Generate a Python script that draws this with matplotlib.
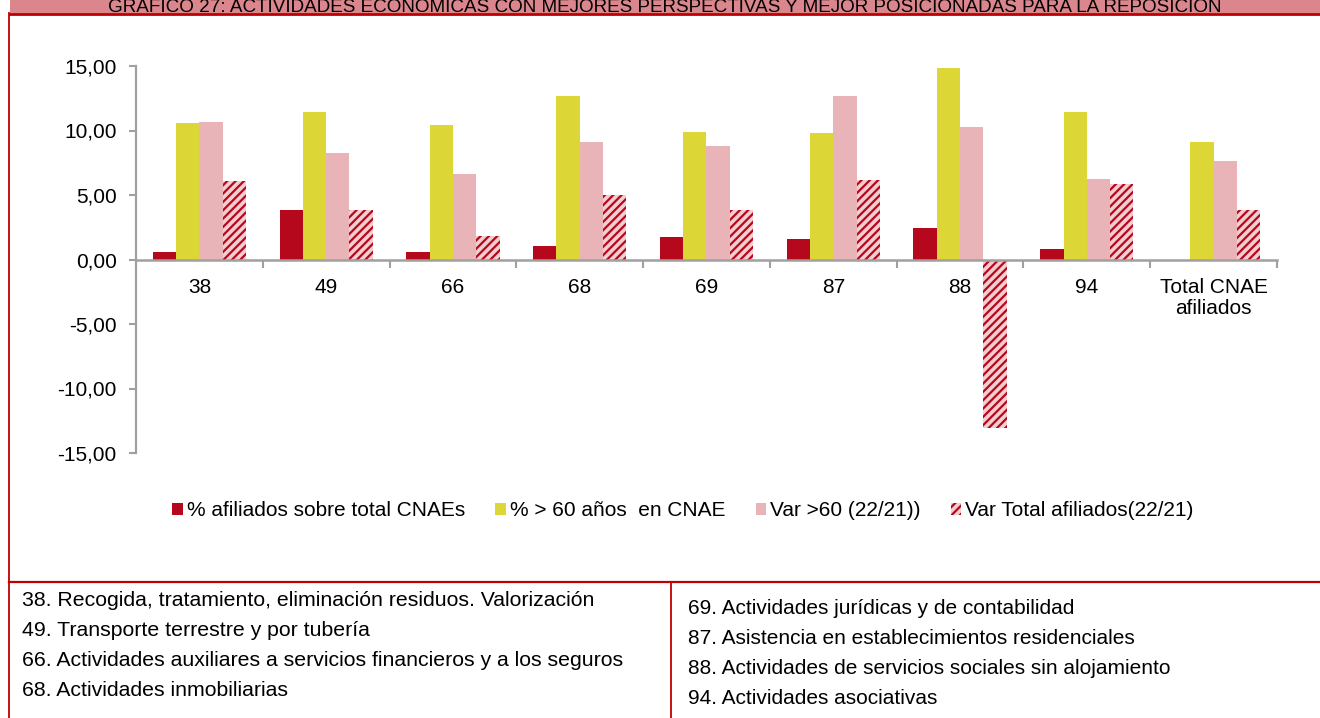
import numpy as np
import matplotlib
matplotlib.use('Agg')
import matplotlib.pyplot as plt
from matplotlib.lines import Line2D
from matplotlib.patches import Rectangle

plt.rcParams['font.family'] = ['Liberation Sans', 'DejaVu Sans']
plt.rcParams['hatch.linewidth'] = 1.6

# datos del grafico
categorias = ['38', '49', '66', '68', '69', '87', '88', '94', 'Total CNAE\nafiliados']
pct_afiliados = [0.60, 3.86, 0.62, 1.04, 1.71, 1.61, 2.41, 0.85, 0.0]
pct_mayores60 = [10.62, 11.40, 10.44, 12.66, 9.89, 9.84, 14.84, 11.40, 9.07]
var_mayores60 = [10.65, 8.29, 6.66, 9.14, 8.83, 12.69, 10.26, 6.24, 7.61]
var_total = [6.11, 3.86, 1.84, 5.02, 3.81, 6.16, -13.03, 5.88, 3.86]

series = ['% afiliados sobre total CNAEs', '% > 60 años  en CNAE',
          'Var >60 (22/21))', 'Var Total afiliados(22/21)']

notas_izq = ['38. Recogida, tratamiento, eliminación residuos. Valorización',
             '49. Transporte terrestre y por tubería',
             '66. Actividades auxiliares a servicios financieros y a los seguros',
             '68. Actividades inmobiliarias']
notas_der = ['69. Actividades jurídicas y de contabilidad',
             '87. Asistencia en establecimientos residenciales',
             '88. Actividades de servicios sociales sin alojamiento',
             '94. Actividades asociativas']

titulo = 'GRÁFICO 27: ACTIVIDADES ECONÓMICAS CON MEJORES PERSPECTIVAS Y MEJOR POSICIONADAS PARA LA REPOSICIÓN'

W, H = 1320, 718
ROJO = '#B5081D'
AMARILLO = '#DCD636'
ROSA = '#E8B4B8'
BORDE = '#C00000'
GRIS = '#A0A0A0'
fs = 15

fig = plt.figure(figsize=(W / 100, H / 100), dpi=100)

def fx(x):
    return x / W

def fy(y):
    return 1 - y / H

# cabecera y marco
fig.add_artist(Rectangle((fx(10), fy(13.5)), 1, 13.5 / H, transform=fig.transFigure,
                         facecolor='#DB858C', edgecolor='none'))
fig.text(fx(665), fy(11.5), titulo, ha='center', va='baseline', fontsize=13.6)
fig.add_artist(Line2D([fx(10), 1], [fy(14), fy(14)], color=BORDE, lw=2))
fig.add_artist(Line2D([fx(9), fx(9)], [0, fy(13)], color=BORDE, lw=1.3))
fig.add_artist(Line2D([fx(9), 1], [fy(582), fy(582)], color=BORDE, lw=1.6))
fig.add_artist(Line2D([fx(671), fx(671)], [0, fy(582)], color=BORDE, lw=1.3))

ax = fig.add_axes([fx(136), fy(453), fx(1277) - fx(136), (453 - 66) / H])

x = np.arange(len(categorias))
w = 0.184
ax.bar(x - 1.5 * w, pct_afiliados, w, color=ROJO, label=series[0])
ax.bar(x - 0.5 * w, pct_mayores60, w, color=AMARILLO, label=series[1])
ax.bar(x + 0.5 * w, var_mayores60, w, color=ROSA, label=series[2])
ax.bar(x + 1.5 * w, var_total, w, color='#F3CDD0', edgecolor=ROJO, linewidth=0,
       hatch='////', label=series[3])

ax.set_xlim(-0.5, len(categorias) - 0.5)
ax.set_ylim(-15, 15)
ax.set_yticks([15, 10, 5, 0, -5, -10, -15])
ax.set_yticklabels([f'{v:.2f}'.replace('.', ',') for v in [15, 10, 5, 0, -5, -10, -15]])

for s in ['top', 'right']:
    ax.spines[s].set_visible(False)
ax.spines['bottom'].set_position(('data', 0))
ax.spines['bottom'].set_color(GRIS)
ax.spines['bottom'].set_linewidth(1.8)
ax.spines['left'].set_color(GRIS)
ax.spines['left'].set_linewidth(1.6)

ax.set_xticks(x)
ax.set_xticklabels(categorias, linespacing=1.15)
ax.set_xticks(np.arange(len(categorias)) + 0.5, minor=True)
ax.tick_params(axis='x', which='major', length=0, pad=13, labelsize=fs)
ax.tick_params(axis='x', which='minor', length=6, width=1.5, color=GRIS, direction='out')
ax.tick_params(axis='y', length=5, width=1.5, color=GRIS, pad=9, labelsize=fs)

ax.legend(loc='center', bbox_to_anchor=(fx(683), fy(511)), bbox_transform=fig.transFigure,
          ncol=4, frameon=False, fontsize=fs, handlelength=0.5, handleheight=0.5,
          handletextpad=0.2, columnspacing=1.45)

# notas al pie
for i, t in enumerate(notas_izq):
    fig.text(fx(22), fy(601 + 29.7 * i), t, ha='left', va='center', fontsize=15.3)
for i, t in enumerate(notas_der):
    fig.text(fx(688), fy(608 + 30 * i), t, ha='left', va='center', fontsize=fs)

fig.savefig('out.png', dpi=100)
